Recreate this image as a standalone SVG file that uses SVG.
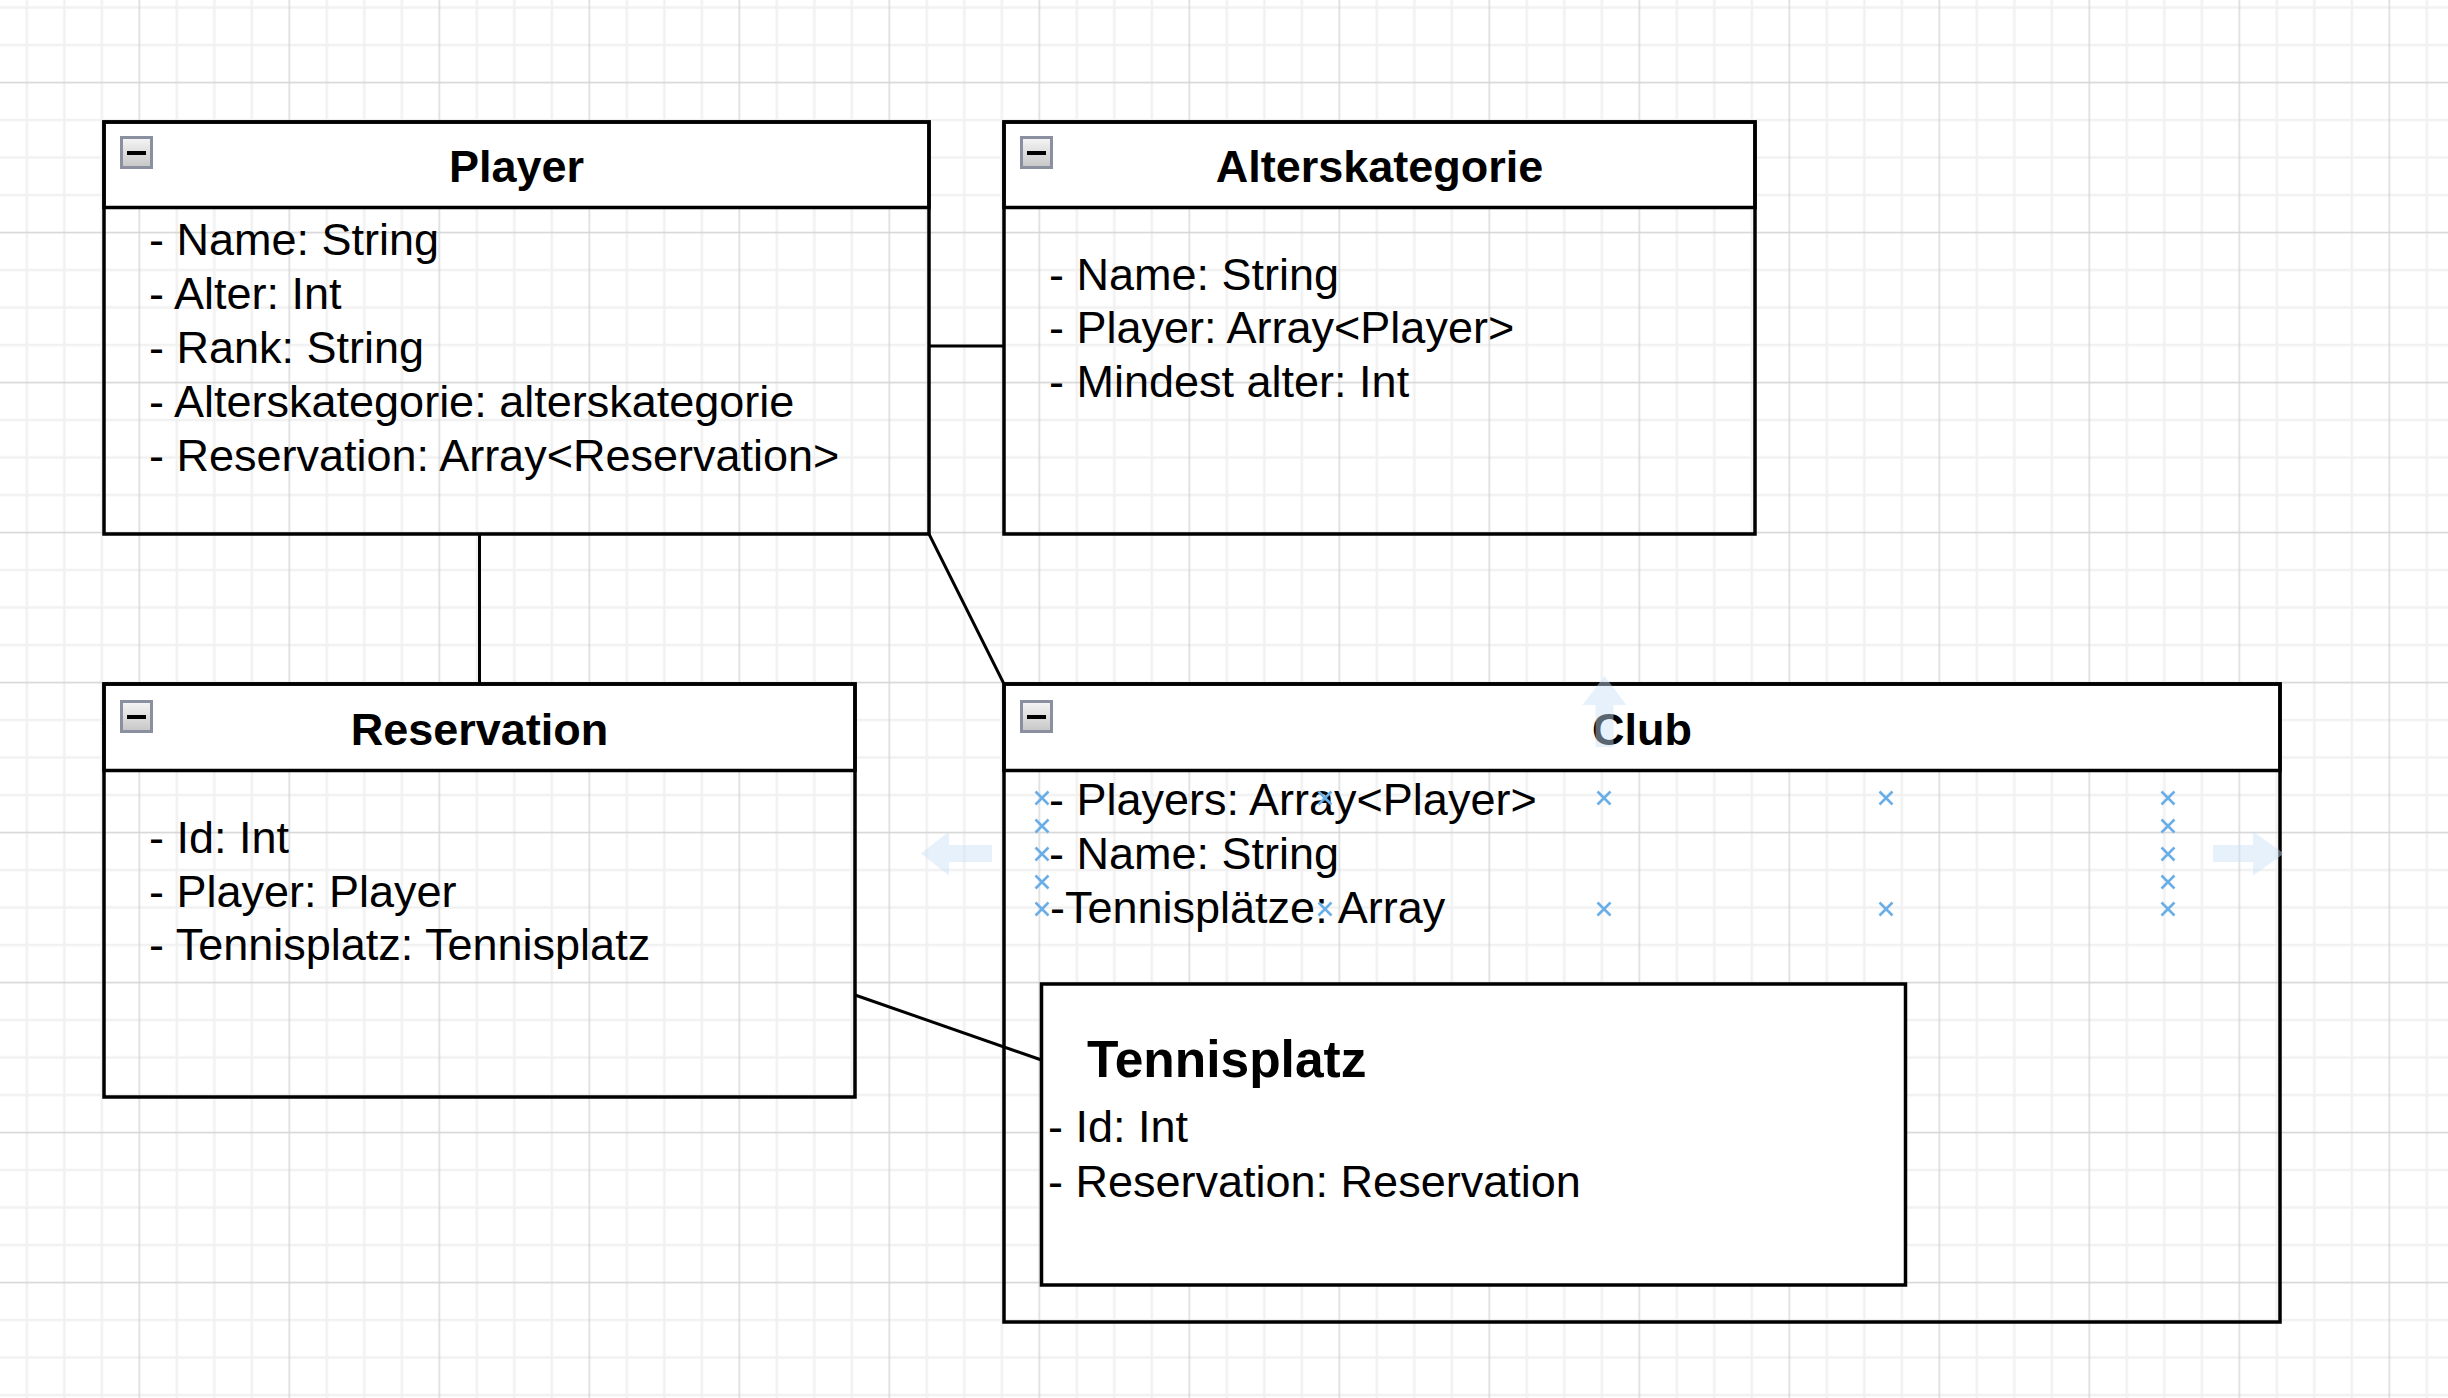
<svg xmlns="http://www.w3.org/2000/svg" width="2448" height="1398" viewBox="0 0 2448 1398">
<style>
.box{fill:none;stroke:#000;stroke-width:3.5}
.hdr{fill:#fff;stroke:#000;stroke-width:3.5}
.sep{stroke:#000;stroke-width:3.5}
.title{font-family:"Liberation Sans",Arial,sans-serif;font-size:45px;font-weight:bold;fill:#000;text-anchor:middle}
.attr{font-family:"Liberation Sans",Arial,sans-serif;font-size:45px;fill:#000}
.conn{stroke:#000;stroke-width:3;fill:none}
.mk{stroke:#6aaee8;stroke-width:2.6;fill:none}
.hov{fill:#c8e0f8;fill-opacity:0.45}
.minor{stroke:#f1f1f1;stroke-width:2.5}
.major{stroke:#d4d4d4;stroke-width:1.3}
</style>
<defs>
<pattern id="grid" patternUnits="userSpaceOnUse" x="120.55" y="63.75" width="150" height="150">
<path class="minor" d="M56.25,0V150M93.75,0V150M131.25,0V150M0,56.25H150M0,93.75H150M0,131.25H150"/>
<path class="major" d="M18.75,0V150M0,18.75H150"/>
</pattern>
<linearGradient id="btn" x1="0" y1="0" x2="0" y2="1">
<stop offset="0" stop-color="#f6f6f6"/>
<stop offset="1" stop-color="#c6c6c6"/>
</linearGradient>
<g id="minus">
<rect x="1.5" y="1.5" width="30" height="30" fill="url(#btn)" stroke="#8b90a0" stroke-width="3"/>
<rect x="7" y="15" width="19" height="4" fill="#000"/>
</g>
<path id="xm" class="mk" d="M-6.5,-6.5L6.5,6.5M6.5,-6.5L-6.5,6.5"/>
</defs>
<rect x="0" y="0" width="2448" height="1398" fill="#fff"/>
<rect x="0" y="0" width="2448" height="1398" fill="url(#grid)"/>

<g id="connectors">
<line class="conn" x1="929" y1="346" x2="1004" y2="346"/>
<line class="conn" x1="479.5" y1="534" x2="479.5" y2="684"/>
<line class="conn" x1="929" y1="534" x2="1004" y2="684"/>
<line class="conn" x1="855" y1="995" x2="1041.5" y2="1060"/>
</g>

<g id="player">
<rect class="hdr" x="104" y="122" width="825" height="85.5"/>
<rect class="box" x="104" y="122" width="825" height="412"/>
<use href="#minus" x="120" y="136"/>
<text class="title" x="516.5" y="182">Player</text>
<text class="attr" x="149" y="254.5">- Name: String</text>
<text class="attr" x="149" y="308.5">- Alter: Int</text>
<text class="attr" x="149" y="362.5">- Rank: String</text>
<text class="attr" x="149" y="416.5">- Alterskategorie: alterskategorie</text>
<text class="attr" x="149" y="470.5">- Reservation: Array&lt;Reservation&gt;</text>
</g>

<g id="alterskategorie">
<rect class="hdr" x="1004" y="122" width="751" height="85.5"/>
<rect class="box" x="1004" y="122" width="751" height="412"/>
<use href="#minus" x="1020" y="136"/>
<text class="title" x="1379.5" y="182">Alterskategorie</text>
<text class="attr" x="1049" y="290">- Name: String</text>
<text class="attr" x="1049" y="343">- Player: Array&lt;Player&gt;</text>
<text class="attr" x="1049" y="397">- Mindest alter: Int</text>
</g>

<g id="reservation">
<rect class="hdr" x="104" y="684" width="751" height="86.5"/>
<rect class="box" x="104" y="684" width="751" height="413"/>
<use href="#minus" x="120" y="700"/>
<text class="title" x="479.5" y="745">Reservation</text>
<text class="attr" x="149" y="853">- Id: Int</text>
<text class="attr" x="149" y="906.5">- Player: Player</text>
<text class="attr" x="149" y="960">- Tennisplatz: Tennisplatz</text>
</g>

<g id="club">
<rect class="hdr" x="1004" y="684" width="1276" height="86.5"/>
<rect class="box" x="1004" y="684" width="1276" height="638"/>
<use href="#minus" x="1020" y="700"/>
<text class="title" x="1642" y="745">Club</text>
<text class="attr" x="1049" y="815">- Players: Array&lt;Player&gt;</text>
<text class="attr" x="1049" y="869">- Name: String</text>
<text class="attr" x="1050" y="923">-Tennisplätze: Array</text>
</g>

<g id="tennisplatz">
<rect x="1041.5" y="984" width="864" height="301" fill="#fff" stroke="#000" stroke-width="3.5"/>
<text class="attr" x="1087" y="1077" style="font-weight:bold;font-size:51.5px">Tennisplatz</text>
<text class="attr" x="1048" y="1142">- Id: Int</text>
<text class="attr" x="1048" y="1197">- Reservation: Reservation</text>
</g>

<g id="selection-markers">
<use href="#xm" x="1042" y="798"/>
<use href="#xm" x="1042" y="826"/>
<use href="#xm" x="1042" y="854"/>
<use href="#xm" x="1042" y="882"/>
<use href="#xm" x="1042" y="909"/>
<use href="#xm" x="1325" y="798"/>
<use href="#xm" x="1325" y="909"/>
<use href="#xm" x="1604" y="798"/>
<use href="#xm" x="1604" y="909"/>
<use href="#xm" x="1886" y="798"/>
<use href="#xm" x="1886" y="909"/>
<use href="#xm" x="2168" y="798"/>
<use href="#xm" x="2168" y="826"/>
<use href="#xm" x="2168" y="854"/>
<use href="#xm" x="2168" y="882"/>
<use href="#xm" x="2168" y="909"/>
<polygon class="hov" points="921,853.5 949,831.5 949,845 992,845 992,862 949,862 949,875.5"/>
<polygon class="hov" points="2284,853.5 2253,831.5 2253,845 2213,845 2213,862 2253,862 2253,875.5"/>
<polygon class="hov" points="1604.5,676 1626.5,705 1613.5,705 1613.5,747 1595.5,747 1595.5,705 1582.5,705"/>
</g>
</svg>
